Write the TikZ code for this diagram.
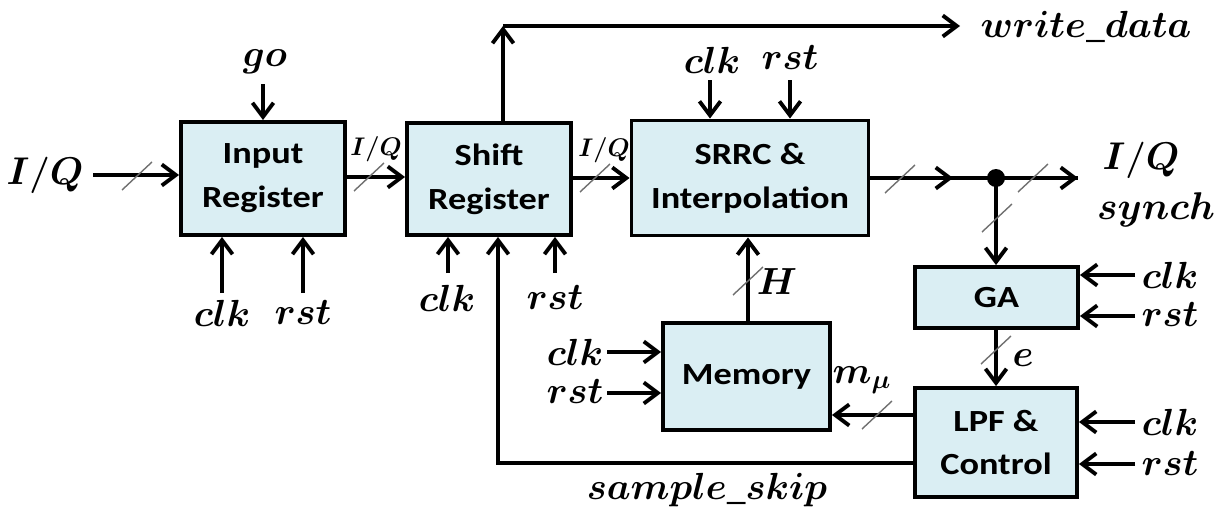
\documentclass[tikz,border=0pt]{standalone}
\usepackage{fontspec}
\setmainfont{Carlito}
\newfontfamily\blockfont{Carlito}[FakeStretch=1.18]
% scalable math italic at any size
\DeclareFontShape{OML}{cmm}{m}{it}{<->cmmi10}{}
\DeclareFontShape{OML}{cmm}{b}{it}{<->cmmib10}{}
\usetikzlibrary{arrows.meta}
\definecolor{blockfill}{HTML}{DAEEF3}
\definecolor{busgray}{HTML}{707070}
\tikzset{
  block/.style={draw, line width=2.2pt, fill=blockfill, align=center, inner sep=0pt,
    font=\blockfont\bfseries\fontsize{17.5}{25}\selectfont},
  thickline/.style={draw, line width=2.2pt},
  arr/.style={draw, line width=2.2pt, -{Straight Barb[length=8pt, width=12pt]}},
  sig/.style={inner sep=0pt, font=\fontsize{21.5}{24}\selectfont\boldmath},
  bigsig/.style={inner sep=0pt, font=\fontsize{22}{26}\selectfont\boldmath},
  smallsig/.style={inner sep=0pt, font=\fontsize{14.5}{17}\selectfont\boldmath},
  bus/.style={draw=busgray, line width=0.8pt},
  dot/.style={circle, fill=black, inner sep=0pt, minimum size=0.36cm}
}
\begin{document}
\begin{tikzpicture}
\useasboundingbox (0,0) rectangle (24.56,-10.16);

% processing blocks
\node[block, minimum width=3.28cm, minimum height=2.26cm] (inreg) at (5.26,-3.57) {Input\\Register};
\node[block, minimum width=3.28cm, minimum height=2.24cm] (shreg) at (9.78,-3.58) {Shift\\Register};
\node[block, minimum width=4.74cm, minimum height=2.30cm] (srrc) at (15.00,-3.56) {SRRC \&\\Interpolation};
\node[block, minimum width=3.26cm, minimum height=1.22cm] (ga) at (19.93,-5.95) {GA};
\node[block, minimum width=3.34cm, minimum height=2.14cm] (mem) at (14.93,-7.53) {Memory};
\node[block, minimum width=3.24cm, minimum height=2.18cm] (lpf) at (19.92,-8.85) {LPF \&\\Control};

% signal labels
\node[bigsig] (iqin) at (0.90,-3.50) {$I/Q$};
\node[sig] (go) at (5.30,-1.24) {$go$};
\node[sig] (clkA) at (4.44,-6.26) {$clk$};
\node[sig] (rstA) at (6.06,-6.26) {$rst$};
\node[smallsig] (iqA) at (7.52,-2.98) {$I/Q$};
\node[sig] (clkB) at (8.94,-5.96) {$clk$};
\node[sig] (rstB) at (11.10,-5.96) {$rst$};
\node[smallsig] (iqB) at (12.08,-3.00) {$I/Q$};
\node[sig] (clkC) at (14.24,-1.20) {$clk$};
\node[sig] (rstC) at (15.80,-1.16) {$rst$};
\node[sig] (wdata) at (21.72,-0.54) {$write\_data$};
\node[bigsig] (iqout) at (22.82,-3.20) {$I/Q$};
\node[bigsig] (synch) at (23.12,-4.20) {$synch$};
\node[sig] (clkG) at (23.40,-5.50) {$clk$};
\node[sig] (rstG) at (23.40,-6.30) {$rst$};
\node[sig] (eLab) at (20.46,-7.16) {$e$};
\node[sig] (clkL) at (23.40,-8.44) {$clk$};
\node[sig] (rstL) at (23.40,-9.28) {$rst$};
\node[sig] (mmu) at (17.24,-7.60) {$m_{\mu}$};
\node[sig] (hLab) at (15.54,-5.64) {$H$};
\node[sig] (clkM) at (11.50,-7.04) {$clk$};
\node[sig] (rstM) at (11.50,-7.84) {$rst$};
\node[sig] (skip) at (14.14,-9.80) {$sample\_skip$};

% free ends and bends of connectors
\coordinate (iqs) at (1.86,-3.50);
\coordinate (goS) at (5.26,-1.68);
\coordinate (clkAs) at (4.44,-5.86);
\coordinate (rstAs) at (6.06,-5.86);
\coordinate (clkBs) at (8.96,-5.46);
\coordinate (rstBs) at (11.10,-5.46);
\coordinate (clkCs) at (14.20,-1.60);
\coordinate (rstCs) at (15.80,-1.60);
\coordinate (wdc) at (10.06,-0.52);
\coordinate (wde) at (19.20,-0.52);
\coordinate (mid1) at (19.06,-3.56);
\coordinate (jn) at (19.92,-3.56);
\coordinate (iqe) at (21.56,-3.56);
\coordinate (clkGs) at (22.70,-5.50);
\coordinate (rstGs) at (22.70,-6.32);
\coordinate (clkLs) at (22.70,-8.44);
\coordinate (rstLs) at (22.70,-9.28);
\coordinate (clkMs) at (12.14,-7.04);
\coordinate (rstMs) at (12.14,-7.86);
\coordinate (mmuy) at (0,-8.30);
\coordinate (fb) at (9.96,-9.26);
\coordinate (hx) at (14.96,0);

% data path
\draw[arr] (iqs) -- (iqs -| inreg.west);
\draw[arr] (inreg.east |- 0,-3.54) -- (shreg.west |- 0,-3.54);
\draw[arr] (shreg.east |- 0,-3.56) -- (srrc.west |- 0,-3.56);
\draw[thickline] (srrc.east) -- (iqe);
\draw[arr] (srrc.east) -- (mid1);
\draw[arr] (jn) -- (iqe);
\node[dot] at (jn) {};
\draw[arr] (jn) -- (jn |- ga.north);
\draw[arr] (ga.south -| jn) -- (lpf.north -| jn);
\draw[arr] (lpf.west |- mmuy) -- (mem.east |- mmuy);
\draw[arr] (mem.north -| hx) -- (srrc.south -| hx);
\draw[arr] (lpf.west |- fb) -- (fb) -- (fb |- shreg.south);
\draw[arr] (shreg.north -| wdc) -- (wdc);
\draw[arr] (wdc) -- (wde);

% control inputs
\draw[arr] (goS) -- (goS |- inreg.north);
\draw[arr] (clkAs) -- (clkAs |- inreg.south);
\draw[arr] (rstAs) -- (rstAs |- inreg.south);
\draw[arr] (clkBs) -- (clkBs |- shreg.south);
\draw[arr] (rstBs) -- (rstBs |- shreg.south);
\draw[arr] (clkCs) -- (clkCs |- srrc.north);
\draw[arr] (rstCs) -- (rstCs |- srrc.north);
\draw[arr] (clkGs) -- (clkGs -| ga.east);
\draw[arr] (rstGs) -- (rstGs -| ga.east);
\draw[arr] (clkLs) -- (clkLs -| lpf.east);
\draw[arr] (rstLs) -- (rstLs -| lpf.east);
\draw[arr] (clkMs) -- (clkMs -| mem.west);
\draw[arr] (rstMs) -- (rstMs -| mem.west);

% bus width marks
\foreach \bx/\by in {2.74/-3.52, 7.38/-3.54, 11.90/-3.56, 18.00/-3.58, 20.66/-3.56,
                     19.94/-4.36, 19.92/-7.00, 17.54/-8.30, 14.96/-5.62}
  \draw[bus] (\bx,\by) ++(-0.30,-0.28) -- ++(0.60,0.56);
\end{tikzpicture}
\end{document}
